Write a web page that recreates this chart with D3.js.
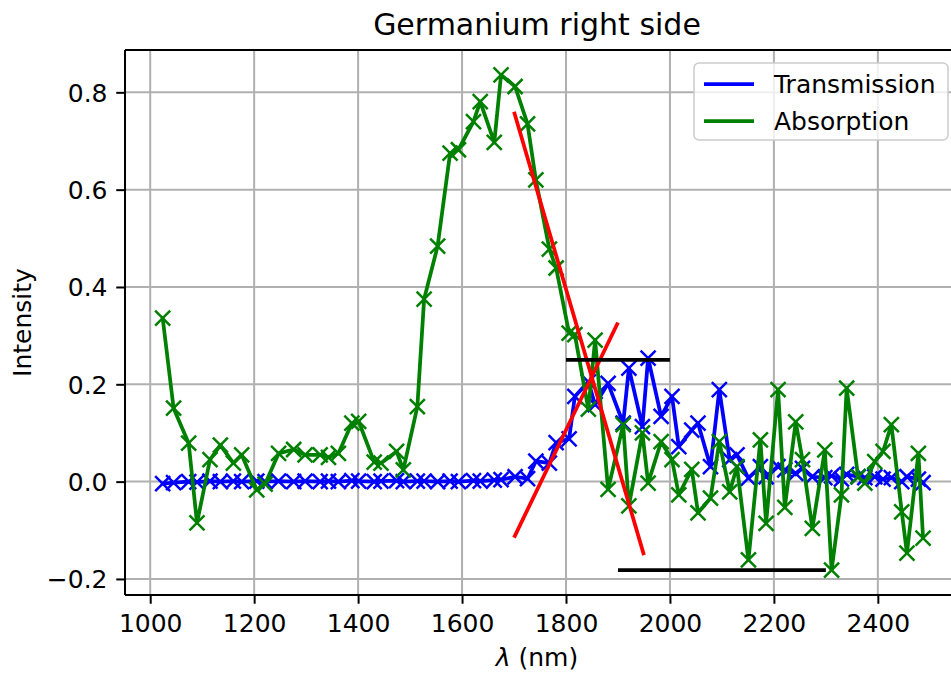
<!DOCTYPE html>
<html>
<head>
<meta charset="utf-8">
<script src="https://cdn.jsdelivr.net/npm/d3@7"></script>
<style>
  body { margin: 0; background: #fff; }
  svg { font-family: "DejaVu Sans", sans-serif; }
</style>
</head>
<body>
<svg id="chart" width="951" height="673"></svg>
<script>
// wavelength (nm) of each sample, shared by both series
const wavelength = [1024, 1045, 1074, 1090, 1115, 1135, 1160, 1176, 1205, 1221,
  1247, 1276, 1298, 1327, 1343, 1362, 1388, 1401, 1431, 1444,
  1474, 1487, 1514, 1527, 1553, 1577, 1593, 1622, 1635, 1662,
  1675, 1702, 1726, 1742, 1768, 1781, 1806, 1817, 1843, 1856,
  1881, 1910, 1921, 1947, 1958, 1983, 2004, 2017, 2042, 2054,
  2078, 2095, 2115, 2129, 2151, 2174, 2185, 2208, 2221, 2242,
  2255, 2274, 2298, 2311, 2330, 2340, 2362, 2375, 2394, 2410,
  2426, 2446, 2456, 2478, 2487];

const transmission = [-0.004, -0.002, 0.000, -0.001, 0.001, 0.000, 0.001, 0.000, 0.001, 0.000,
  0.001, 0.000, 0.001, 0.000, 0.001, 0.000, 0.002, 0.001, 0.000, 0.001,
  0.002, 0.000, 0.001, 0.001, 0.000, 0.001, 0.000, 0.002, 0.001, 0.003,
  0.004, 0.010, 0.006, 0.042, 0.038, 0.080, 0.088, 0.175, 0.205, 0.158,
  0.202, 0.120, 0.233, 0.113, 0.254, 0.134, 0.175, 0.072, 0.106, 0.120,
  0.031, 0.189, 0.045, 0.055, 0.007, 0.031, 0.010, 0.031, 0.024, 0.017,
  0.027, 0.010, 0.008, 0.012, 0.005, 0.015, 0.010, 0.008, 0.010, 0.005,
  0.008, 0.000, 0.010, 0.005, -0.002];

const absorption = [0.336, 0.151, 0.079, -0.085, 0.045, 0.075, 0.038, 0.055, -0.017, -0.005,
  0.058, 0.066, 0.055, 0.055, 0.050, 0.058, 0.120, 0.124, 0.040, 0.038,
  0.062, 0.024, 0.154, 0.375, 0.484, 0.675, 0.682, 0.740, 0.781, 0.697,
  0.836, 0.812, 0.735, 0.620, 0.478, 0.439, 0.305, 0.302, 0.149, 0.291,
  -0.016, 0.117, -0.050, 0.100, -0.003, 0.082, 0.045, -0.027, 0.025, -0.064,
  -0.034, 0.082, -0.021, 0.031, -0.161, 0.086, -0.086, 0.189, -0.053, 0.123,
  0.045, -0.096, 0.065, -0.182, -0.027, 0.192, 0.010, -0.003, 0.041, 0.062,
  0.117, -0.062, -0.147, 0.058, -0.116];

// fitted edges (red) and levels (black)
const fallX = [1700, 1950], fallY = [0.760, -0.151];
const riseX = [1700, 1900], riseY = [-0.115, 0.327];
const topLevelX = [1800, 2000], topLevelY = [0.25, 0.25];
const lowLevelX = [1900, 2300], lowLevelY = [-0.182, -0.182];

const xTicks = [1000, 1200, 1400, 1600, 1800, 2000, 2200, 2400];
const yTicks = [-0.2, 0.0, 0.2, 0.4, 0.6, 0.8];

const svg = d3.select('#chart');
const margin = { top: 50, left: 125 };
const width = 836;   // right spine lies just past the picture edge
const height = 545;

const xScale = d3.scaleLinear().domain([951.5, 2560]).range([0, width]);
const yScale = d3.scaleLinear().domain([-0.233, 0.887]).range([height, 0]);

const g = svg.append('g').attr('transform', `translate(${margin.left},${margin.top})`);

// grid
g.append('g')
  .selectAll('line')
  .data(xTicks)
  .enter()
  .append('line')
  .attr('x1', (d) => xScale(d)).attr('x2', (d) => xScale(d))
  .attr('y1', 0).attr('y2', height)
  .attr('stroke', '#b0b0b0').attr('stroke-width', 2);

g.append('g')
  .selectAll('line')
  .data(yTicks)
  .enter()
  .append('line')
  .attr('y1', (d) => yScale(d)).attr('y2', (d) => yScale(d))
  .attr('x1', 0).attr('x2', width)
  .attr('stroke', '#b0b0b0').attr('stroke-width', 2);

function zip(xs, ys) {
  return xs.map((x, i) => [x, ys[i]]);
}

const line = d3.line().x((d) => xScale(d[0])).y((d) => yScale(d[1]));

function drawSeries(points, color) {
  g.append('path')
    .datum(points)
    .attr('d', line)
    .attr('fill', 'none')
    .attr('stroke', color)
    .attr('stroke-width', 3.75)
    .attr('stroke-linejoin', 'round')
    .attr('stroke-linecap', 'square');
  const m = 7.5;
  g.append('g')
    .selectAll('path')
    .data(points)
    .enter()
    .append('path')
    .attr('d', (d) => {
      const x = xScale(d[0]), y = yScale(d[1]);
      return `M${x - m},${y - m}L${x + m},${y + m}M${x - m},${y + m}L${x + m},${y - m}`;
    })
    .attr('stroke', color)
    .attr('stroke-width', 2.5)
    .attr('fill', 'none');
}

drawSeries(zip(wavelength, transmission), '#0000ff');
drawSeries(zip(wavelength, absorption), '#008000');

function drawSegment(xs, ys, color) {
  g.append('path')
    .datum(zip(xs, ys))
    .attr('d', line)
    .attr('fill', 'none')
    .attr('stroke', color)
    .attr('stroke-width', 3.75);
}

drawSegment(fallX, fallY, '#ff0000');
drawSegment(riseX, riseY, '#ff0000');
drawSegment(topLevelX, topLevelY, '#000000');
drawSegment(lowLevelX, lowLevelY, '#000000');

// axes
const xAxis = d3.axisBottom(xScale).tickValues(xTicks).tickSize(8.75).tickPadding(8.75)
  .tickFormat(d3.format('d'));
const yAxis = d3.axisLeft(yScale).tickValues(yTicks).tickSize(8.75).tickPadding(8.75)
  .tickFormat((d) => d3.format('.1f')(d).replace('-', '\u2212'));

const xAxisG = g.append('g').attr('transform', `translate(0,${height})`).call(xAxis);
const yAxisG = g.append('g').call(yAxis);

[xAxisG, yAxisG].forEach((a) => {
  a.select('.domain').remove();
  a.selectAll('line').attr('stroke', '#000').attr('stroke-width', 2);
  a.selectAll('text').attr('fill', '#000').style('font-size', '25px')
    .style('font-family', '"DejaVu Sans", sans-serif');
});
yAxisG.selectAll('text').attr('dy', '0.35em');
xAxisG.selectAll('text').attr('dy', '0.76em');

// spines
g.append('line').attr('x1', 0).attr('x2', 0).attr('y1', 0).attr('y2', height)
  .attr('stroke', '#000').attr('stroke-width', 2);
g.append('line').attr('x1', 0).attr('x2', width).attr('y1', height).attr('y2', height)
  .attr('stroke', '#000').attr('stroke-width', 2);
g.append('line').attr('x1', 0).attr('x2', width).attr('y1', 0).attr('y2', 0)
  .attr('stroke', '#000').attr('stroke-width', 2);
g.append('line').attr('x1', width).attr('x2', width).attr('y1', 0).attr('y2', height)
  .attr('stroke', '#000').attr('stroke-width', 2);

// title and labels
svg.append('text')
  .attr('x', margin.left + 412)
  .attr('y', 35)
  .attr('text-anchor', 'middle')
  .style('font-size', '30px')
  .text('Germanium right side');

const xl = svg.append('text')
  .attr('x', margin.left + 412)
  .attr('y', 666)
  .attr('text-anchor', 'middle')
  .style('font-size', '25px');
xl.append('tspan').style('font-style', 'italic').text('\u03bb');
xl.append('tspan').text(' (nm)');

svg.append('text')
  .attr('transform', `translate(31,${margin.top + height / 2}) rotate(-90)`)
  .attr('text-anchor', 'middle')
  .style('font-size', '25px')
  .text('Intensity');

// legend
const legend = svg.append('g').attr('transform', 'translate(694,63)');
legend.append('rect')
  .attr('width', 254).attr('height', 77)
  .attr('rx', 5)
  .attr('fill', 'rgba(255,255,255,0.8)')
  .attr('stroke', '#cccccc')
  .attr('stroke-width', 1.5);

const legendItems = [
  { name: 'Transmission', color: '#0000ff' },
  { name: 'Absorption', color: '#008000' }
];
legendItems.forEach((d, i) => {
  const cy = 21 + i * 37;
  legend.append('line')
    .attr('x1', 10).attr('x2', 60).attr('y1', cy).attr('y2', cy)
    .attr('stroke', d.color).attr('stroke-width', 3.75);
  legend.append('text')
    .attr('x', 80).attr('y', cy).attr('dy', '0.35em')
    .style('font-size', '25px')
    .text(d.name);
});
</script>
</body>
</html>
